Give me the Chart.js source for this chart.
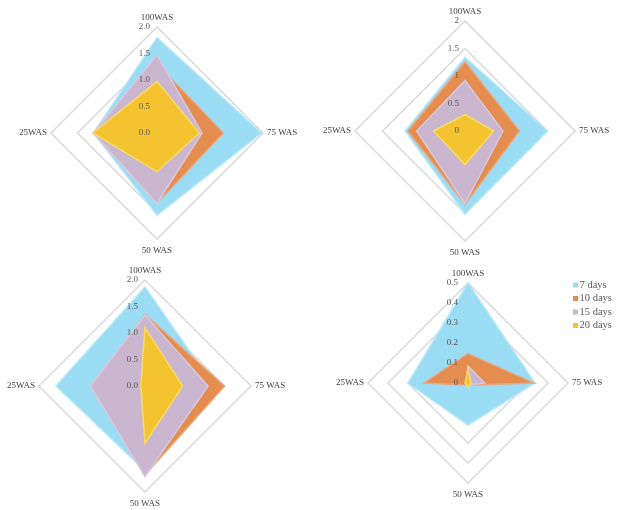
<!DOCTYPE html>
<html><head><meta charset="utf-8">
<script src="https://cdn.jsdelivr.net/npm/chart.js@4/dist/chart.umd.min.js"></script>
<style>
html,body{margin:0;padding:0;background:#fff;}
#wrap{position:relative;width:618px;height:510px;overflow:hidden;background:#fff;}
canvas{position:absolute;left:0;top:0;}
</style></head><body>
<div id="wrap">
<canvas id="cA" width="618" height="510"></canvas>
<canvas id="cB" width="618" height="510"></canvas>
<canvas id="cC" width="618" height="510"></canvas>
<canvas id="cD" width="618" height="510"></canvas>
</div>
<script>
// ---- data ----
const axisLabels = ["100WAS", "75 WAS", "50 WAS", "25WAS"];
const seriesNames = ["7 days", "10 days", "15 days", "20 days"];

// top-left panel
const a7  = [1.80, 1.97, 1.55, 1.20];
const a10 = [1.30, 1.25, 1.32, 1.20];
const a15 = [1.47, 0.85, 1.33, 1.20];
const a20 = [0.97, 0.80, 0.73, 1.21];
const ticksA = ["0.0", "0.5", "1.0", "1.5", "2.0"];

// top-right panel
const b7  = [1.34, 1.50, 1.51, 1.09];
const b10 = [1.26, 0.99, 1.33, 1.04];
const b15 = [0.92, 0.69, 1.32, 0.88];
const b20 = [0.30, 0.52, 0.61, 0.57];
const ticksB = ["0", "0.5", "1", "1.5", "2"];

// bottom-left panel
const c7  = [1.87, 1.30, 1.60, 1.68];
const c10 = [1.35, 1.50, 1.68, 1.00];
const c15 = [1.34, 1.19, 1.71, 1.03];
const c20 = [1.10, 0.71, 1.08, 0.08];
const ticksC = ["0.0", "0.5", "1.0", "1.5", "2.0"];

// bottom-right panel
const d7  = [0.50, 0.335, 0.21, 0.30];
const d10 = [0.147, 0.33, 0.01, 0.22];
const d15 = [0.085, 0.083, 0.01, 0.01];
const d20 = [0.07, 0.015, 0.02, 0.015];
const ticksD = ["0", "0.1", "0.2", "0.3", "0.4", "0.5"];

// ---- styles ----
const fills   = ['#9adcf3', '#e58c4f', '#cbb6cf', '#f3c330'];
const borders = ['#b5e7f7', '#eca57a', '#d9c8dc', '#f8da6a'];
const SERIF = '"Liberation Serif", "Times New Roman", serif';

const textPlugin = {
  id: 'txt',
  afterDraw(chart, args, opts) {
    const s = chart.scales.r;
    const ctx = chart.ctx;
    ctx.save();
    ctx.fillStyle = '#404040';
    ctx.font = '9px ' + SERIF;
    chart.data.labels.forEach((lab, i) => {
      let p;
      if (i === 0) { p = s.getPointPosition(i, s.drawingArea + 5); ctx.textAlign = 'center'; ctx.textBaseline = 'bottom'; }
      else if (i === 1) { p = s.getPointPosition(i, s.drawingArea + 4); ctx.textAlign = 'left'; ctx.textBaseline = 'middle'; }
      else if (i === 2) { p = s.getPointPosition(i, s.drawingArea + 7); ctx.textAlign = 'center'; ctx.textBaseline = 'top'; }
      else { p = s.getPointPosition(i, s.drawingArea + 4); ctx.textAlign = 'right'; ctx.textBaseline = 'middle'; }
      ctx.fillText(lab, p.x, p.y);
    });
    ctx.fillStyle = '#595959';
    ctx.textAlign = 'right';
    ctx.textBaseline = 'middle';
    s.ticks.forEach((t, k) => {
      const d = s.getDistanceFromCenterForValue(t.value);
      ctx.fillText(opts.tickText[k], s.xCenter - opts.tickOff, s.yCenter - d);
    });
    if (opts.legend) {
      ctx.font = '10.5px ' + SERIF;
      ctx.textAlign = 'left';
      ctx.textBaseline = 'middle';
      chart.data.datasets.forEach((ds, i) => {
        const y = opts.legY + i * 13.5;
        ctx.fillStyle = ds.backgroundColor;
        ctx.fillRect(opts.legX, y - 2.5, 5, 5);
        ctx.fillStyle = '#595959';
        ctx.fillText(ds.label, opts.legX + 6.5, y);
      });
    }
    ctx.restore();
  }
};

function makeChart(id, series, maxV, step, cx, cy, R, tickText, tickOff, legend) {
  const datasets = series.map((vals, i) => ({
    label: seriesNames[i],
    data: vals,
    backgroundColor: fills[i],
    borderColor: borders[i],
    borderWidth: 1.5,
    pointRadius: 0,
    fill: true,
    order: series.length - i
  }));
  return new Chart(document.getElementById(id), {
    type: 'radar',
    data: { labels: axisLabels, datasets },
    options: {
      responsive: false,
      animation: false,
      devicePixelRatio: 1,
      layout: { padding: { left: cx - R, top: cy - R, right: 618 - cx - R, bottom: 510 - cy - R } },
      plugins: {
        legend: { display: false },
        tooltip: { enabled: false },
        txt: { tickText, tickOff, legend: !!legend, legX: legend ? legend[0] : 0, legY: legend ? legend[1] : 0 }
      },
      scales: {
        r: {
          min: 0, max: maxV,
          ticks: { stepSize: step, display: false },
          pointLabels: { display: false },
          angleLines: { display: false },
          grid: { color: '#d9d9d9', lineWidth: 1.5 }
        }
      }
    },
    plugins: [textPlugin]
  });
}

makeChart('cA', [a7, a10, a15, a20], 2, 0.5, 157, 133, 106, ticksA, 7, null);
makeChart('cB', [b7, b10, b15, b20], 2, 0.5, 465, 131, 110, ticksB, 6, null);
makeChart('cC', [c7, c10, c15, c20], 2, 0.5, 145, 386, 106, ticksC, 7, null);
makeChart('cD', [d7, d10, d15, d20], 0.5, 0.1, 468, 383, 100, ticksD, 10, [573, 285]);
</script>
</body></html>
